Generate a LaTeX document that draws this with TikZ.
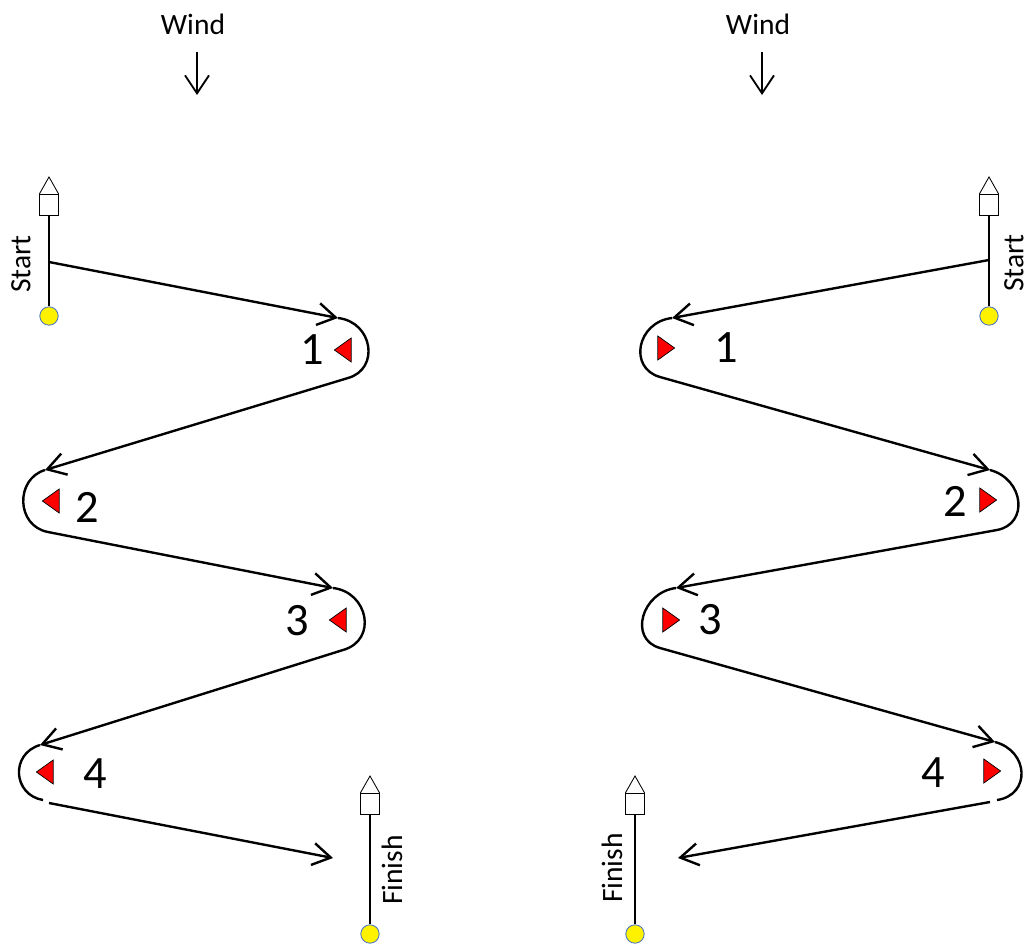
\documentclass[tikz,border=0pt]{standalone}
\usepackage{fontspec}
\setmainfont{Carlito}
\usetikzlibrary{arrows.meta, shapes.geometric}
\definecolor{buoyedge}{HTML}{4472C4}
\tikzset{
  leg/.style={line width=1.7pt, -{Straight Barb[length=4.5mm, width=5.5mm]}},
  rounding/.style={line width=1.7pt},
  pole/.style={line width=1.7pt},
  windarrow/.style={line width=1.3pt, -{Straight Barb[length=4.5mm, width=6mm]}},
  flag/.style={rectangle, draw, fill=white, line width=0.6pt, minimum width=4.6mm, minimum height=5.3mm, inner sep=0pt},
  pennant/.style={draw, fill=white, line width=0.6pt},
  buoy/.style={circle, draw=buoyedge, fill=yellow, line width=0.6pt, minimum size=4.6mm, inner sep=0pt},
  markL/.style={isosceles triangle, isosceles triangle stretches, shape border rotate=180, fill=red, draw, line width=0.5pt, inner sep=0pt, minimum width=6mm, minimum height=4.2mm},
  markR/.style={markL, shape border rotate=0},
  num/.style={font=\fontsize{33}{40}\selectfont},
  side/.style={font=\fontsize{21}{25}\selectfont, rotate=90},
  windtext/.style={font=\fontsize{21}{25}\selectfont},
}

\begin{document}
\begin{tikzpicture}[x=0.25mm, y=-0.25mm]
  \useasboundingbox (0, 0) rectangle (1031, 943);

  % left course
  \node[windtext] (windL) at (193, 24) {Wind};
  \coordinate (windLtail) at (197, 52);
  \coordinate (windLhead) at (197, 95);
  \draw[windarrow] (windLtail) -- (windLhead);

  \node[flag] (sflagL) at (49, 205) {};
  \draw[pennant] (sflagL.north west) -- ([yshift=4.25mm]sflagL.north) -- (sflagL.north east);
  \node[buoy] (sbuoyL) at (49, 316) {};
  \draw[pole] (sflagL.south) -- (sbuoyL.north);
  \node[side] (startL) at (21, 264) {Start};
  \coordinate (slineL) at (49, 262);

  \node[markL] (t1L) at (345, 350) {};
  \node[num] (n1L) at (312, 350) {1};
  \node[markL] (t2L) at (53, 501) {};
  \node[num] (n2L) at (87, 507) {2};
  \node[markL] (t3L) at (340, 620) {};
  \node[num] (n3L) at (297, 621) {3};
  \node[markL] (t4L) at (47, 772) {};
  \node[num] (n4L) at (95, 774) {4};

  \coordinate (m1inL) at (338, 318);
  \coordinate (m1outL) at (348, 378);
  \coordinate (m2inL) at (45, 470);
  \coordinate (m2outL) at (48, 532);
  \coordinate (m3inL) at (333, 588);
  \coordinate (m3outL) at (343, 650);
  \coordinate (m4inL) at (40, 745);
  \coordinate (m4endL) at (43, 800);
  \coordinate (m4outL) at (49, 803);
  \coordinate (finL) at (333, 858);

  \draw[leg] (slineL) -- (m1inL);
  \draw[rounding] (m1inL) .. controls +(35, 4) and +(32, -9) .. (m1outL);
  \draw[leg] (m1outL) -- (m2inL);
  \draw[rounding] (m2inL) .. controls +(-30, 9) and +(-32, -6) .. (m2outL);
  \draw[leg] (m2outL) -- (m3inL);
  \draw[rounding] (m3inL) .. controls +(35, 4) and +(35, -10) .. (m3outL);
  \draw[leg] (m3outL) -- (m4inL);
  \draw[rounding] (m4inL) .. controls +(-30, 9) and +(-30, -5) .. (m4endL);
  \draw[leg] (m4outL) -- (finL);

  \node[flag] (fflagL) at (370, 804) {};
  \draw[pennant] (fflagL.north west) -- ([yshift=4.25mm]fflagL.north) -- (fflagL.north east);
  \node[buoy] (fbuoyL) at (370, 934) {};
  \draw[pole] (fflagL.south) -- (fbuoyL.north);
  \node[side] (finishL) at (392, 870) {Finish};

  % right course
  \node[windtext] (windR) at (758, 24) {Wind};
  \coordinate (windRtail) at (762, 52);
  \coordinate (windRhead) at (762, 95);
  \draw[windarrow] (windRtail) -- (windRhead);

  \node[flag] (sflagR) at (989, 205) {};
  \draw[pennant] (sflagR.north west) -- ([yshift=4.25mm]sflagR.north) -- (sflagR.north east);
  \node[buoy] (sbuoyR) at (989, 316) {};
  \draw[pole] (sflagR.south) -- (sbuoyR.north);
  \node[side] (startR) at (1014, 263) {Start};
  \coordinate (slineR) at (989, 260);

  \node[markR] (t1R) at (664, 348) {};
  \node[num] (n1R) at (726, 348) {1};
  \node[markR] (t2R) at (986, 500) {};
  \node[num] (n2R) at (955, 501) {2};
  \node[markR] (t3R) at (669, 620) {};
  \node[num] (n3R) at (710, 620) {3};
  \node[markR] (t4R) at (990, 771) {};
  \node[num] (n4R) at (933, 773) {4};

  \coordinate (m1inR) at (672, 318);
  \coordinate (m1outR) at (660, 377);
  \coordinate (m2inR) at (990, 470);
  \coordinate (m2outR) at (997, 530);
  \coordinate (m3inR) at (676, 588);
  \coordinate (m3outR) at (660, 648);
  \coordinate (m4inR) at (995, 742);
  \coordinate (m4endR) at (997, 800);
  \coordinate (m4outR) at (990, 802);
  \coordinate (finR) at (678, 858);

  \draw[leg] (slineR) -- (m1inR);
  \draw[rounding] (m1inR) .. controls +(-35, 4) and +(-32, -9) .. (m1outR);
  \draw[leg] (m1outR) -- (m2inR);
  \draw[rounding] (m2inR) .. controls +(34, 9) and +(32, -6) .. (m2outR);
  \draw[leg] (m2outR) -- (m3inR);
  \draw[rounding] (m3inR) .. controls +(-34, 4) and +(-32, -9) .. (m3outR);
  \draw[leg] (m3outR) -- (m4inR);
  \draw[rounding] (m4inR) .. controls +(34, 9) and +(34, -5) .. (m4endR);
  \draw[leg] (m4outR) -- (finR);

  \node[flag] (fflagR) at (635, 804) {};
  \draw[pennant] (fflagR.north west) -- ([yshift=4.25mm]fflagR.north) -- (fflagR.north east);
  \node[buoy] (fbuoyR) at (635, 934) {};
  \draw[pole] (fflagR.south) -- (fbuoyR.north);
  \node[side] (finishR) at (612, 868) {Finish};
\end{tikzpicture}
\end{document}
